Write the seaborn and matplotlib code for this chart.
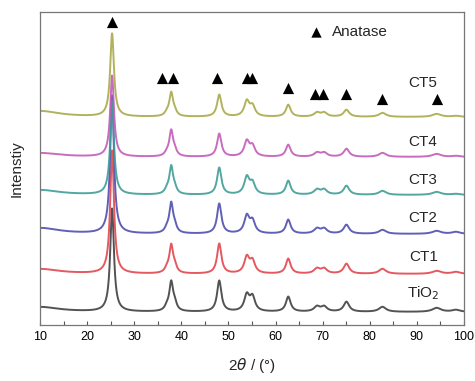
import numpy as np
import pandas as pd
import matplotlib
matplotlib.use("Agg")
import matplotlib.pyplot as plt
import seaborn as sns

# ---- data (vertical units: arbitrary, stacked) ----
samples = ["TiO$_2$", "CT1", "CT2", "CT3", "CT4", "CT5"]
colors = ["#404040", "#e2474f", "#4f4fae", "#3f9e96", "#c25cb8", "#aaaa4c"]
offsets = [13, 51, 91, 130, 168, 208]

peak_pos = [25.3, 36.95, 37.85, 38.6, 48.05, 53.9, 55.1, 62.7, 68.8, 70.3, 75.05, 82.7, 94.2, 98.3]
peak_fwhm = [0.95, 1.1, 0.95, 1.0, 1.1, 1.3, 1.3, 1.2, 1.5, 1.5, 1.4, 1.8, 2.2, 2.0]
heights_TiO2 = [103, 4, 28, 7, 31, 16, 14, 15, 5, 5, 10, 5, 4, 2]
heights_CT1 = [123, 4, 27, 6, 30, 16, 12, 15, 5, 5, 10, 5, 3, 2]
heights_CT2 = [138, 4, 29, 6, 30, 17, 12, 14, 5, 5, 9, 4, 3, 2]
heights_CT3 = [93, 4, 27, 5, 27, 17, 11, 14, 5, 5, 9, 4, 3, 1]
heights_CT4 = [81, 3, 25, 5, 23, 15, 10, 12, 4, 4, 8, 4, 3, 1]
heights_CT5 = [83, 3, 23, 4, 22, 15, 10, 12, 4, 4, 7, 4, 3, 1]
all_heights = [heights_TiO2, heights_CT1, heights_CT2, heights_CT3, heights_CT4, heights_CT5]
hump_height = [5, 5, 6, 5, 4, 6]   # broad low-angle background

marker_pos = [25.3, 35.9, 38.2, 47.6, 53.9, 55.1, 62.7, 68.4, 70.1, 75.0, 82.7, 94.2]
marker_h = [303, 247, 247, 247, 247, 247, 237, 231, 231, 231, 226, 226]

label_x = [91.3, 91.5, 91.3, 91.3, 91.3, 91.3]
label_y = [32, 68, 107, 145, 183, 242]

# ---- build curves ----
tt = np.linspace(10, 100, 1801)
rows = []
for name, off, hs, hh in zip(samples, offsets, all_heights, hump_height):
    y = np.full_like(tt, float(off))
    y += hh * (5.0 ** 2) / ((tt - 10.0) ** 2 + 5.0 ** 2)
    for p, w, h in zip(peak_pos, peak_fwhm, hs):
        g = w / 2
        y += h * g ** 2 / ((tt - p) ** 2 + g ** 2)
    rows.append(pd.DataFrame({"2theta": tt, "I": y, "sample": name}))
df = pd.concat(rows, ignore_index=True)

sns.set_theme(style="ticks")
plt.rcParams["font.family"] = ["Liberation Sans", "DejaVu Sans"]
plt.rcParams["mathtext.fontset"] = "dejavusans"

fig = plt.figure(figsize=(4.75, 3.81), dpi=100)
ax = fig.add_axes([0.0842, 0.147, 0.8926, 0.8215])

sns.lineplot(data=df, x="2theta", y="I", hue="sample", hue_order=samples,
             palette=colors, linewidth=1.4, legend=False, ax=ax, sort=False,
             alpha=0.9)

ax.scatter(marker_pos, marker_h, marker="^", s=65, color="black", zorder=5, linewidths=0)
ax.scatter([68.6], [293], marker="^", s=55, color="black", zorder=5, linewidths=0)
ax.text(72.0, 293, "Anatase", fontsize=11, va="center", ha="left")

for name, lx, ly in zip(samples, label_x, label_y):
    ax.text(lx, ly, name, fontsize=11, ha="center", va="center")

ax.set_xlim(10, 100)
ax.set_ylim(0, 313)
ax.set_xticks(np.arange(10, 101, 10))
ax.set_xticks(np.arange(15, 100, 10), minor=True)
ax.set_yticks([])
ax.tick_params(axis="x", which="both", direction="in", length=3, width=0.8,
               labelsize=9, pad=4, colors="#555555", labelcolor="black")
for s in ax.spines.values():
    s.set_color("#777777")
    s.set_linewidth(0.9)
ax.set_xlabel("2$\\theta$ / (°)", fontsize=11, labelpad=10)
ax.set_ylabel("Intenstiy", fontsize=11, labelpad=12)

fig.savefig("out.png", dpi=100)
